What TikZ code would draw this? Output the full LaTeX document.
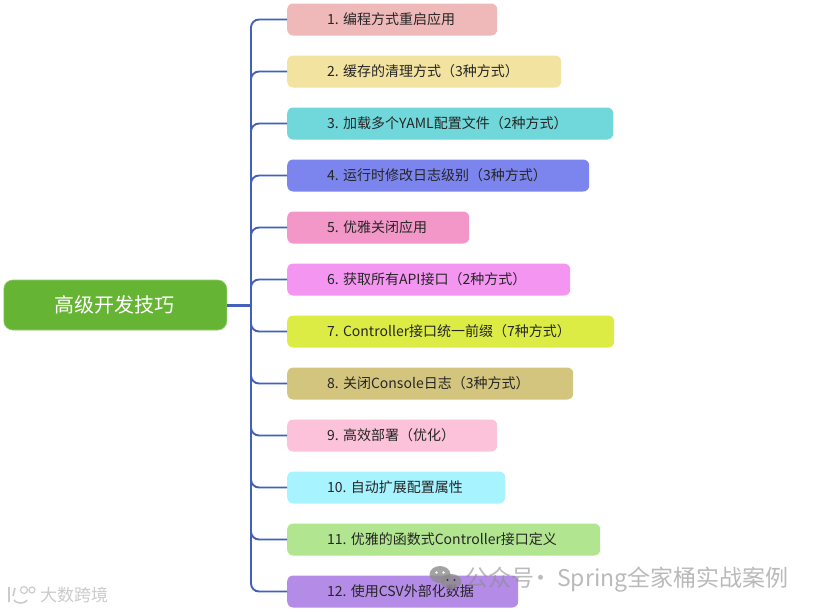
\documentclass[tikz,border=0pt]{standalone}
\usepackage{fontspec}
\setmainfont{Noto Sans CJK SC}
\definecolor{conn}{HTML}{4360BA}
\definecolor{rootc}{HTML}{66B434}
\definecolor{wm}{HTML}{8C8C8C}
\tikzset{
  topic/.style={anchor=west,rounded corners=6pt,inner sep=0pt,minimum height=32pt,text=black!85,font=\fontsize{14pt}{16pt}\selectfont},
  rootbox/.style={anchor=west,rounded corners=9pt,inner sep=0pt,minimum width=223pt,minimum height=50pt,fill=rootc,draw=rootc!70!white,line width=.6pt,text=white,font=\fontsize{20pt}{24pt}\selectfont},
  branch/.style={draw=conn,line width=1.9pt,rounded corners=8pt},
  stub/.style={draw=conn,line width=3pt},
  wmark/.style={inner sep=0pt,anchor=west,text=wm,text opacity=.75}
}
\newcommand{\topicnode}[5]{%
  \definecolor{tc#1}{HTML}{#3}
  \node[topic,fill=tc#1] (b#1) at (287pt,#2pt) {\makebox[#4pt][l]{\hspace*{40pt}\raisebox{-1.2pt}{#5}}};
}
\begin{document}
\begin{tikzpicture}[x=1pt,y=1pt]
\useasboundingbox (0,0) rectangle (813,-611);
\fill[white] (0,0) rectangle (813,-611);
\node[rootbox] (root) at (3.5,-305) {\hspace*{-2pt}高级开发技巧};
\coordinate (t) at (251,-305);
\topicnode{1}{-19.5}{EFB9B9}{210}{1. 编程方式重启应用}
\topicnode{2}{-71.5}{F2E3A0}{274}{2. 缓存的清理方式（3种方式）}
\topicnode{3}{-123.5}{70D8DA}{326}{3. 加载多个YAML配置文件（2种方式）}
\topicnode{4}{-175.5}{7C85EE}{302}{4. 运行时修改日志级别（3种方式）}
\topicnode{5}{-227.5}{F297C8}{182}{5. 优雅关闭应用}
\topicnode{6}{-279.5}{F495F2}{283}{6. 获取所有API接口（2种方式）}
\topicnode{7}{-331.5}{DCEC45}{327}{7. Controller接口统一前缀（7种方式）}
\topicnode{8}{-383.5}{D3C57E}{286}{8. 关闭Console日志（3种方式）}
\topicnode{9}{-435.5}{FCC2D9}{210}{9. 高效部署（优化）}
\topicnode{10}{-487.5}{A7F3FF}{218}{10. 自动扩展配置属性}
\topicnode{11}{-539.5}{B1E590}{313}{11. 优雅的函数式Controller接口定义}
\topicnode{12}{-591.5}{B48BE6}{231}{12. 使用CSV外部化数据}
\foreach \i in {1,...,12} \draw[branch] (t) |- (b\i.west);
\draw[stub] (root.east) -- (t);
% watermarks
\fill[wm,opacity=.8] (440,-574.5) ellipse (10.5 and 8.5);
\fill[white,opacity=.9] (436.5,-572.5) circle (1.3) (443.5,-572.5) circle (1.3);
\fill[wm,opacity=.8] (451,-581.5) ellipse (10.5 and 7.5);
\fill[black!60!wm] (447.5,-580) circle (1.1) (454.5,-580) circle (1.1);
\node[wmark,font=\fontsize{23pt}{24pt}\selectfont,text opacity=.6] (wm1) at (465,-579.5) {公众号\makebox[14pt][c]{·}\hspace*{9pt}Spring全家桶实战案例};
\node[wmark,text=white,text opacity=1,font=\fontsize{17pt}{20pt}\selectfont] (wm2) at (40.6,-595) {大数跨境};
\node[wmark,font=\fontsize{17pt}{20pt}\selectfont,text opacity=.45] (wm3) at (40,-595) {大数跨境};
\draw[wm,opacity=.45,line width=1.6pt] (9,-587) -- (9,-602) (15,-588) -- (13,-596) (14,-600) arc (200:340:7 and 4.5);
\draw[wm,opacity=.45,line width=1.2pt] (24,-590) circle (3.5) (32,-590) circle (3);
\end{tikzpicture}
\end{document}
